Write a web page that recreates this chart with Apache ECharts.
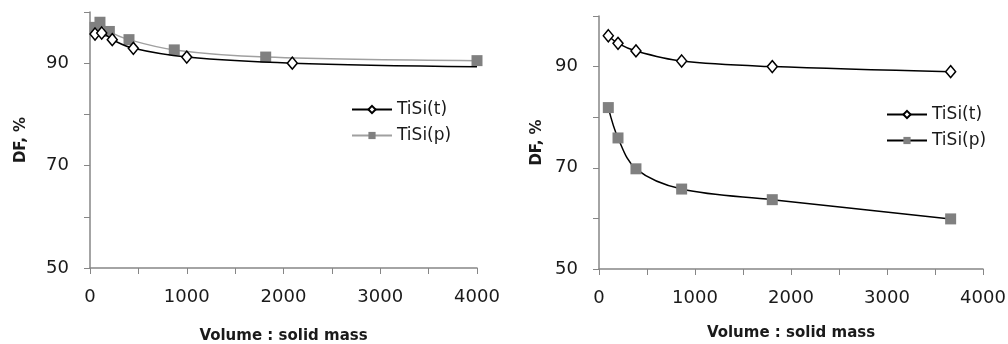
<!DOCTYPE html>
<html>
<head>
<meta charset="utf-8">
<script src="https://cdn.jsdelivr.net/npm/echarts@6/dist/echarts.min.js"></script>
<style>
  body { margin: 0; background: #fff; }
  .wrap { display: flex; width: 1008px; height: 344px; }
  .chart { width: 504px; height: 344px; }
</style>
</head>
<body>
<div class="wrap">
  <div class="chart" id="left"></div>
  <div class="chart" id="right"></div>
</div>
<script>
// left panel
const leftTX = [52, 121, 230, 448, 1000, 2091, 4000];
const leftTY = [95.7, 95.9, 94.6, 92.9, 91.2, 90.0, 89.3];
const leftTMarked = [true, true, true, true, true, true, false]; // trend end has no marker
const leftPX = [52, 103, 200, 403, 871, 1816, 4000];
const leftPY = [97.0, 98.0, 96.2, 94.6, 92.6, 91.2, 90.5];

// right panel
const rightTX = [97, 198, 385, 861, 1805, 3663];
const rightTY = [96.1, 94.6, 93.1, 91.1, 90.0, 89.0];
const rightPX = [97, 198, 385, 861, 1805, 3663];
const rightPY = [81.9, 75.9, 69.8, 65.8, 63.7, 59.9];

const yTickLabels = [50, 70, 90];
const xTickLabels = [0, 1000, 2000, 3000, 4000];

const font = 'DejaVu Sans';
const axisColor = '#868686';

const pairs = (xs, ys, marked) => xs.map((x, i) => {
    if (marked && !marked[i]) return {value: [x, ys[i]], symbol: 'none'};
    return [x, ys[i]];
});

const makeOption = (cfg) => ({
    animation: false,
    textStyle: {fontFamily: font},
    grid: Object.assign({outerBoundsMode: 'none', containLabel: false}, cfg.grid),
    legend: {
        orient: 'vertical',
        left: cfg.legendLeft,
        top: cfg.legendTop,
        itemWidth: 40,
        itemHeight: 9,
        itemGap: 9,
        textStyle: {fontFamily: font, fontSize: 17, color: '#1a1a1a'},
        data: ['TiSi(t)', 'TiSi(p)']
    },
    xAxis: {
        type: 'value',
        min: 0, max: 4000, interval: 500,
        name: 'Volume : solid mass',
        nameLocation: 'middle',
        nameGap: cfg.xNameGap,
        nameTextStyle: {fontFamily: font, fontSize: 15, fontWeight: 'bold', color: '#1a1a1a'},
        axisLine: {show: true, lineStyle: {color: axisColor, width: 1.5}},
        axisTick: {show: true, length: 6, lineStyle: {color: axisColor}},
        splitLine: {show: false},
        axisLabel: {
            fontFamily: font, fontSize: 18, color: '#1a1a1a', margin: 20,
            formatter: v => xTickLabels.indexOf(v) >= 0 ? String(v) : ''
        }
    },
    yAxis: {
        type: 'value',
        min: 50, max: 100, interval: 10,
        name: 'DF, %',
        nameLocation: 'middle',
        nameGap: cfg.yNameGap,
        nameTextStyle: {fontFamily: font, fontSize: 15, fontWeight: 'bold', color: '#1a1a1a'},
        axisLine: {show: true, lineStyle: {color: axisColor, width: 1.5}},
        axisTick: {show: true, length: 6, lineStyle: {color: axisColor}},
        splitLine: {show: false},
        axisLabel: {
            fontFamily: font, fontSize: 18, color: '#1a1a1a', margin: 21,
            formatter: v => yTickLabels.indexOf(v) >= 0 ? String(v) : ''
        }
    },
    series: cfg.series
});

const tSeries = (data, lineColor) => ({
    name: 'TiSi(t)',
    type: 'line',
    data: data,
    smooth: 0.35,
    symbol: 'diamond',
    symbolSize: [10, 12],
    showAllSymbol: true,
    z: 3,
    lineStyle: {color: lineColor, width: 1.5},
    itemStyle: {color: '#fff', borderColor: '#000', borderWidth: 1.5}
});

const pSeries = (data, lineColor) => ({
    name: 'TiSi(p)',
    type: 'line',
    data: data,
    smooth: 0.35,
    symbol: 'rect',
    symbolSize: 11,
    showAllSymbol: true,
    z: 2,
    lineStyle: {color: lineColor, width: 1.5},
    itemStyle: {color: '#808080', borderWidth: 0}
});

const leftChart = echarts.init(document.getElementById('left'));
leftChart.setOption(makeOption({
    grid: {left: 90, right: 27, top: 12, bottom: 76},
    legendLeft: 346, legendTop: 96,
    xNameGap: 61, yNameGap: 61,
    series: [
        tSeries(pairs(leftTX, leftTY, leftTMarked), '#000'),
        pSeries(pairs(leftPX, leftPY), '#a0a0a0')
    ]
}));

const rightChart = echarts.init(document.getElementById('right'));
rightChart.setOption(makeOption({
    grid: {left: 95, right: 25, top: 16, bottom: 75},
    legendLeft: 377, legendTop: 101,
    xNameGap: 57, yNameGap: 54,
    series: [
        tSeries(pairs(rightTX, rightTY), '#000'),
        pSeries(pairs(rightPX, rightPY), '#000')
    ]
}));
</script>
</body>
</html>
